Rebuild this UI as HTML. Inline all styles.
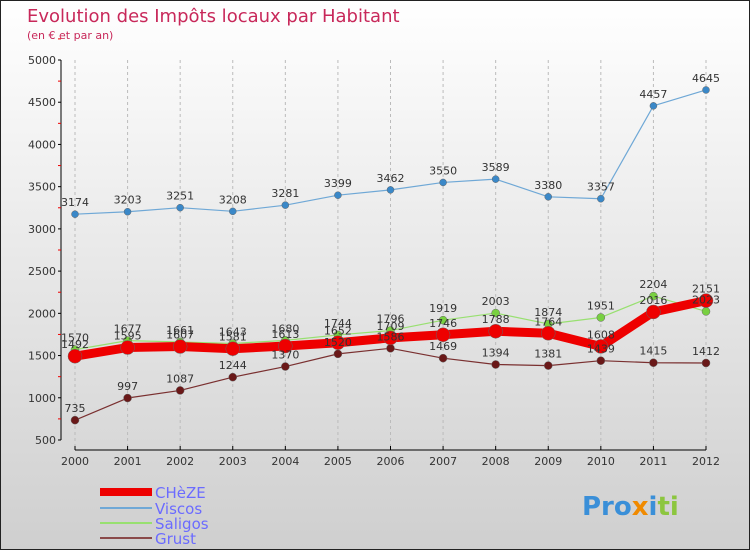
<!DOCTYPE html>
<html><head><meta charset="utf-8"><style>
html,body{margin:0;padding:0}
body{width:750px;height:550px;overflow:hidden;font-family:"DejaVu Sans","Liberation Sans",sans-serif}
svg{display:block}
</style></head><body>
<svg id="chart" width="750" height="550" xmlns="http://www.w3.org/2000/svg">
<defs><linearGradient id="bg" x1="0" y1="0" x2="0" y2="1"><stop offset="0" stop-color="#ffffff"/><stop offset="1" stop-color="#cfcfcf"/></linearGradient></defs>
<rect x="0.5" y="0.5" width="749" height="549" fill="url(#bg)" stroke="#222"/>
<text x="27" y="22" font-size="18" fill="#c8285a">Evolution des Impôts locaux par Habitant</text>
<text x="27" y="39" font-size="11" fill="#c8285a">(en € et par an)</text>
<g id="grid"></g><g id="axes"></g><g id="series"></g><g id="labels"></g>
<g font-size="15" fill="#6b6bff">
<rect x="100" y="488" width="52" height="8" fill="#e00"/>
<text x="155" y="498">CHèZE</text>
<rect x="100" y="507" width="52" height="2" fill="#6fa8d6"/>
<text x="155" y="514">Viscos</text>
<rect x="100" y="522" width="52" height="2" fill="#98e070"/>
<text x="155" y="529">Saligos</text>
<rect x="100" y="537" width="52" height="2" fill="#8a4a4a"/>
<text x="155" y="544">Grust</text>
</g>
<g font-size="26" font-weight="bold">
<text x="582" y="515"><tspan fill="#3a8fd8">Pro</tspan><tspan fill="#f08a00">x</tspan><tspan fill="#3a8fd8">i</tspan><tspan fill="#8cc63f">ti</tspan></text>
</g>
</svg>
<script>
const years=[2000,2001,2002,2003,2004,2005,2006,2007,2008,2009,2010,2011,2012];
const yTicks=[500,1000,1500,2000,2500,3000,3500,4000,4500,5000];
const cheze=[1492,1595,1607,1581,1613,1652,1709,1746,1788,1764,1608,2016,2151];
const viscos=[3174,3203,3251,3208,3281,3399,3462,3550,3589,3380,3357,4457,4645];
const saligos=[1570,1677,1661,1643,1680,1744,1796,1919,2003,1874,1951,2204,2023];
const grust=[735,997,1087,1244,1370,1520,1586,1469,1394,1381,1439,1415,1412];
const NS="http://www.w3.org/2000/svg";
const xS=i=>75+(706-75)*(i)/(years.length-1);
const yS=v=>440-(v-500)*(380/4500);
function mk(t,a,p){const e=document.createElementNS(NS,t);for(const k in a)e.setAttribute(k,a[k]);p.appendChild(e);return e;}
const grid=document.getElementById('grid'),axes=document.getElementById('axes'),ser=document.getElementById('series'),lab=document.getElementById('labels');
years.forEach((y,i)=>{
 const g=mk('line',{x1:xS(i),x2:xS(i),y1:60,y2:450,stroke:'#bbb','stroke-dasharray':'3,3'},grid);
 
 
 const tk=mk('line',{x1:xS(i),x2:xS(i),y1:446,y2:450,stroke:'#000'},axes);
 
 
 const t=mk('text',{x:xS(i),y:465,'font-size':11,fill:'#333','text-anchor':'middle'},axes);
 t.textContent=y;
 
 
});
const xa=mk('line',{x1:75,x2:xS(years.length-1),y1:450,y2:450,stroke:'#000'},axes);


const ya=mk('line',{x1:61,x2:61,y1:60,y2:440,stroke:'#000'},axes);


yTicks.forEach(v=>{
 const tk=mk('line',{x1:58,x2:61,y1:yS(v),y2:yS(v),stroke:'#000'},axes);
 
 
 const m=mk('line',{x1:58,x2:61,y1:yS(v+250),y2:yS(v+250),stroke:'#e00'},axes);
 
 
 const t=mk('text',{x:56,y:yS(v)+4,'font-size':11,fill:'#333','text-anchor':'end'},axes);
 t.textContent=v;
 
 
});
function series(name,vals,color,w,r,fill){
 const pts=vals.map((v,i)=>xS(i)+','+yS(v)).join(' ');
 const pl=mk('polyline',{points:pts,fill:'none',stroke:color,'stroke-width':w,'stroke-linejoin':'round'},ser);
 
 
 vals.forEach((v,i)=>{
  const c=mk('circle',{cx:xS(i),cy:yS(v),r:r,fill:fill,stroke:'#666','stroke-width':0.5},ser);
  
  
  const t=mk('text',{x:xS(i),y:yS(v)-8,'font-size':11,fill:'#333','text-anchor':'middle'},lab);
  t.textContent=v;
  
  
 });
}
series('grust',grust,'#7a3030',1.2,4,'#6a1818');
series('viscos',viscos,'#6fa8d6',1.2,3.5,'#3a88c8');
series('saligos',saligos,'#98e070',1.2,4,'#78d040');
series('cheze',cheze,'#ee0000',9,7,'#ee0000');
</script>
</body></html>
